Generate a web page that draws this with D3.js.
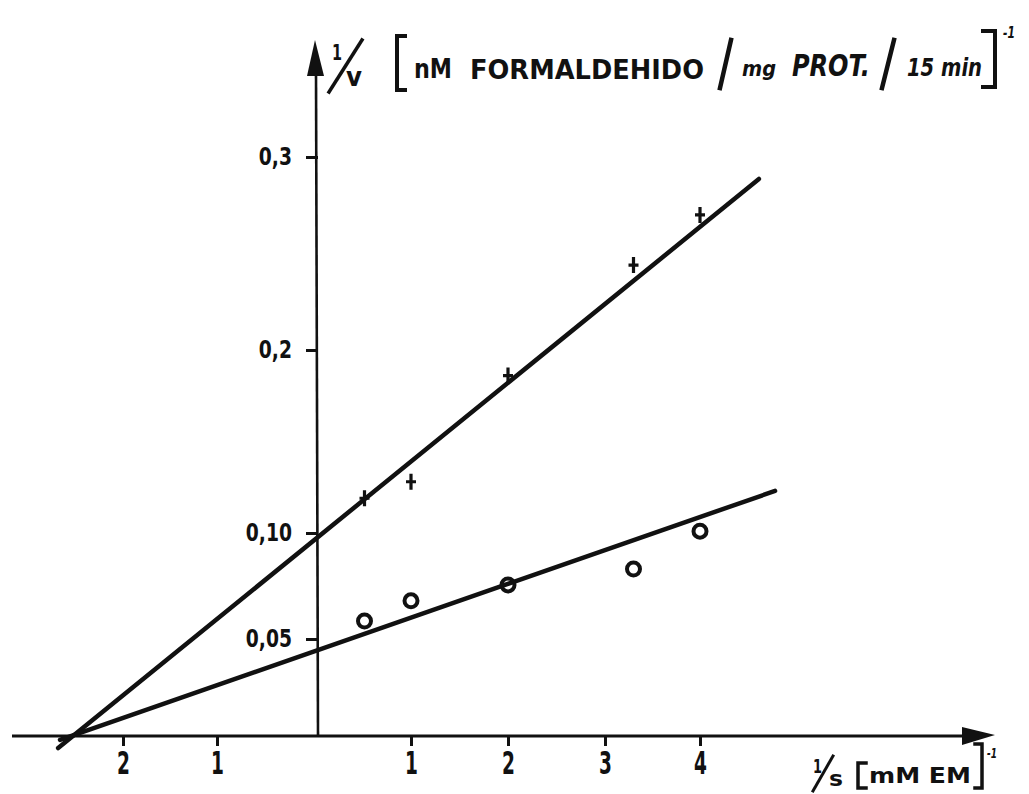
<!DOCTYPE html>
<html>
<head>
<meta charset="utf-8">
<script src="https://cdn.jsdelivr.net/npm/d3@7"></script>
<style>
  body { margin: 0; background: #fff; }
  svg text { font-family: "DejaVu Sans", sans-serif; font-weight: bold; fill: #111; }
</style>
</head>
<body>
<svg id="chart" width="1029" height="794"></svg>
<script>
// ticks de los ejes
var xTicks = [-2, -1, 1, 2, 3, 4];
var xTickLabels = ["2", "1", "1", "2", "3", "4"];
var yTicks = [0.05, 0.10, 0.2, 0.3];
var yTickLabels = ["0,05", "0,10", "0,2", "0,3"];

// 1/S [mM EM]^-1
var invS = [0.5, 1, 2, 3.3, 4];
// 1/v, serie "+"
var crossValues = [0.119, 0.128, 0.186, 0.244, 0.270];
// 1/v, serie "o"
var circleValues = [0.0585, 0.068, 0.0755, 0.083, 0.101];

// rectas trazadas a mano (extremos en unidades de datos)
var crossLine = [[-2.69, -0.0062], [4.62, 0.2886]];
var circleLine = [[-2.67, -0.002], [4.79, 0.123]];

var svg = d3.select("#chart");

// escalas calibradas sobre las marcas dibujadas
var x = d3.scaleLinear().domain([-2, -1, 0, 1, 2, 3, 4]).range([123, 217, 318, 411, 508, 605, 700]);
var y = d3.scaleLinear().domain([0, 0.05, 0.1, 0.2, 0.3]).range([736, 639, 533, 350, 157]);

// eje x
var gx = svg.append("g")
  .attr("transform", "translate(0," + y(0) + ")")
  .call(d3.axisBottom(x).tickValues(xTicks).tickSize(10).tickPadding(5)
    .tickFormat(function(d, i) { return xTickLabels[i]; }));
gx.select(".domain").remove();
gx.selectAll(".tick line").attr("stroke", "#111").attr("stroke-width", 3);
gx.selectAll(".tick text").attr("font-size", 32).attr("transform", "scale(0.58,1)").attr("fill", "#111");

svg.append("line")
  .attr("x1", 12).attr("y1", y(0)).attr("x2", 965).attr("y2", y(0))
  .attr("stroke", "#111").attr("stroke-width", 3);
svg.append("path")
  .attr("d", "M962," + (y(0) - 9) + "L995," + (y(0) - 1) + "L962," + (y(0) + 9) + "Z")
  .attr("fill", "#111");

// eje y
var gy = svg.append("g")
  .attr("transform", "translate(" + x(0) + ",0)")
  .call(d3.axisLeft(y).tickValues(yTicks).tickSize(12).tickPadding(14)
    .tickFormat(function(d, i) { return yTickLabels[i]; }));
gy.select(".domain").remove();
gy.selectAll(".tick line").attr("stroke", "#111").attr("stroke-width", 3);
gy.selectAll(".tick text").attr("font-size", 24).attr("x", -26 / 0.78)
  .attr("transform", "scale(0.78,1)").attr("fill", "#111");

svg.append("line")
  .attr("x1", x(0)).attr("y1", y(0)).attr("x2", 316).attr("y2", 72)
  .attr("stroke", "#111").attr("stroke-width", 2.6);
svg.append("path")
  .attr("d", "M307,76L315,40L324,76Z")
  .attr("fill", "#111");

// rectas
[crossLine, circleLine].forEach(function(seg) {
  svg.append("line")
    .attr("x1", x(seg[0][0])).attr("y1", y(seg[0][1]))
    .attr("x2", x(seg[1][0])).attr("y2", y(seg[1][1]))
    .attr("stroke", "#111").attr("stroke-width", 4.5).attr("stroke-linecap", "round");
});

// puntos "+"
svg.selectAll(".cross").data(invS).enter().append("path")
  .attr("class", "cross")
  .attr("transform", function(d, i) { return "translate(" + x(d) + "," + y(crossValues[i]) + ")"; })
  .attr("d", "M-5,0H5M0,-8V8")
  .attr("stroke", "#111").attr("stroke-width", 3.2);

// puntos "o"
svg.selectAll(".circ").data(invS).enter().append("circle")
  .attr("class", "circ")
  .attr("cx", function(d) { return x(d); })
  .attr("cy", function(d, i) { return y(circleValues[i]); })
  .attr("r", 6.5)
  .attr("fill", "none").attr("stroke", "#111").attr("stroke-width", 4);

// textos
function txt(s, px, py, size, len, italic) {
  var t = svg.append("text").attr("x", px).attr("y", py).attr("font-size", size).text(s);
  if (len) t.attr("textLength", len).attr("lengthAdjust", "spacingAndGlyphs");
  if (italic) t.attr("font-style", "italic");
  return t;
}
function stroke(d, w) {
  svg.append("path").attr("d", d).attr("fill", "none")
    .attr("stroke", "#111").attr("stroke-width", w).attr("stroke-linecap", "square");
}

// titulo eje y
txt("1", 332, 60, 22, 10);
stroke("M362,40L329,92", 3.5);
txt("v", 346, 86, 26, 16);
stroke("M405,36H397V90H405", 4);
txt("nM", 414, 78, 26, 38);
txt("FORMALDEHIDO", 470, 79, 27, 234);
stroke("M731,40L720,88", 4.5);
txt("mg", 742, 76, 21, 34, true);
txt("PROT.", 792, 76, 30, 78, true);
stroke("M894,40L882,88", 4.5);
txt("15 min", 907, 76, 24, 75, true);
stroke("M983,31H995V87H983", 4);
txt("-1", 1003, 38, 16, 12, true);

// titulo eje x
txt("1", 813, 773, 19, 9);
stroke("M833,756L813,791", 3);
txt("s", 829, 786, 21, 14);
stroke("M866,763H858V788H866", 3.5);
txt("mM EM", 869, 783, 22, 102);
stroke("M975,744H982V788H975", 3.5);
txt("-1", 987, 758, 14, 10, true);
</script>
</body>
</html>
